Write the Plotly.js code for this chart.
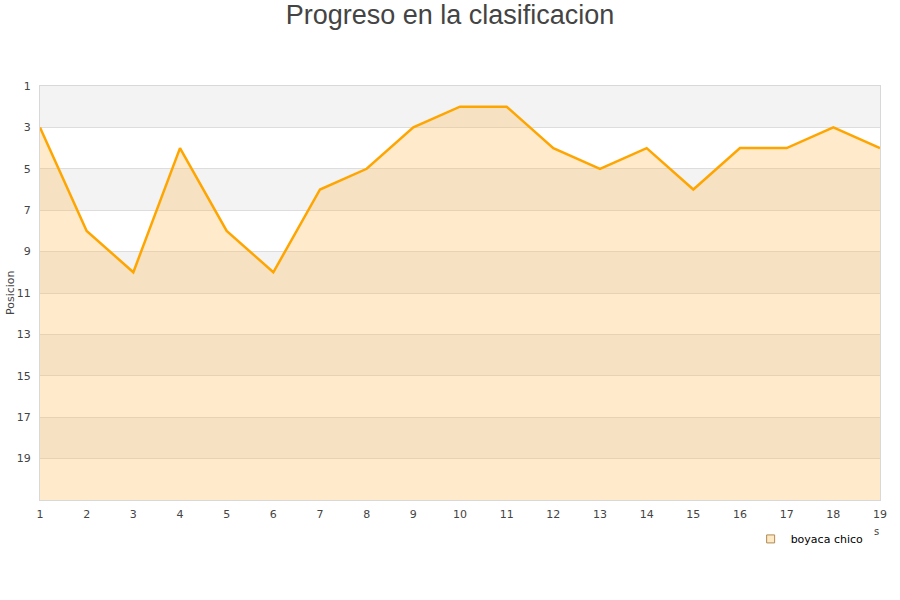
<!DOCTYPE html>
<html>
<head>
<meta charset="utf-8">
<script src="https://cdn.plot.ly/plotly-3.0.1.min.js"></script>
<style>html,body{margin:0;padding:0;background:#fff;}#chart{width:900px;height:600px;}</style>
</head>
<body>
<div id="chart"></div>
<script>
// Jornadas y posicion de boyaca chico.
const jornadas = [1, 2, 3, 4, 5, 6, 7, 8, 9, 10, 11, 12, 13, 14, 15, 16, 17, 18, 19];
const posicion = [3, 8, 10, 4, 8, 10, 6, 5, 3, 2, 2, 4, 5, 4, 6, 4, 4, 3, 4];
const equipo = 'boyaca chico';
const ultimaPosicion = 21;
const yTicks = [1, 3, 5, 7, 9, 11, 13, 15, 17, 19];

// Base for the area fill (bottom of the chart).
let base = {
x: jornadas,
y: jornadas.map(() => ultimaPosicion),
mode: 'lines',
line: {width: 0},
hoverinfo: 'skip',
showlegend: false
};

let linea = {
x: jornadas,
y: posicion,
mode: 'lines',
fill: 'tonexty',
fillcolor: 'rgba(255,188,85,0.3)',
line: {color: '#ffa500', width: 2.5},
name: equipo,
showlegend: false
};

// Legend entry only.
let leyenda = {
x: [null],
y: [null],
mode: 'markers',
marker: {symbol: 'square', size: 8, color: '#fde9c4', line: {color: '#b08a55', width: 1}},
name: equipo,
showlegend: true
};

// Alternate gray bands behind the grid.
let bandas = [];
for (let i = 0; i < yTicks.length; i += 2) {
bandas.push({
type: 'rect', layer: 'below', xref: 'paper', x0: 0, x1: 1,
yref: 'y', y0: yTicks[i], y1: yTicks[i] + 2,
fillcolor: '#f3f3f3', line: {width: 0}
});
}

let layout = {
width: 900,
height: 600,
margin: {l: 40, r: 20, t: 86, b: 100},
paper_bgcolor: '#ffffff',
plot_bgcolor: '#ffffff',
font: {family: 'DejaVu Sans', size: 11, color: '#444'},
title: {
text: 'Progreso en la clasificacion',
font: {family: 'Liberation Sans', size: 27, color: '#444'},
x: 0.5, xanchor: 'center',
y: 0.975, yanchor: 'middle', yref: 'container'
},
xaxis: {
range: [1, 19],
tickvals: jornadas,
showgrid: false,
zeroline: false,
showline: true,
mirror: true,
linecolor: '#d8d8d8',
ticks: '',
ticklabelstandoff: 4,
automargin: false,
fixedrange: true
},
yaxis: {
range: [ultimaPosicion, 1],
tickvals: yTicks,
showgrid: true,
gridcolor: '#dddddd',
zeroline: false,
showline: true,
mirror: true,
linecolor: '#d8d8d8',
ticks: '',
ticklabelstandoff: 6,
automargin: false
},
shapes: bandas,
showlegend: true,
legend: {
x: 0.846, xanchor: 'left',
y: -0.094, yanchor: 'middle',
itemwidth: 30,
font: {family: 'DejaVu Sans', size: 11, color: '#000'},
bgcolor: 'rgba(0,0,0,0)'
},
annotations: [{
// y axis title
text: 'Posicion', xref: 'paper', yref: 'paper', x: -0.0357, y: 0.5,
xanchor: 'center', yanchor: 'middle', textangle: -90,
showarrow: false, font: {size: 11, color: '#444'}
}, {
text: 's', xref: 'paper', yref: 'paper', x: 0.9955, y: -0.075,
xanchor: 'center', yanchor: 'middle',
showarrow: false, font: {size: 10, color: '#444'}
}]
};

Plotly.newPlot('chart', [base, linea, leyenda], layout, {displayModeBar: false, staticPlot: true});
</script>
</body>
</html>
